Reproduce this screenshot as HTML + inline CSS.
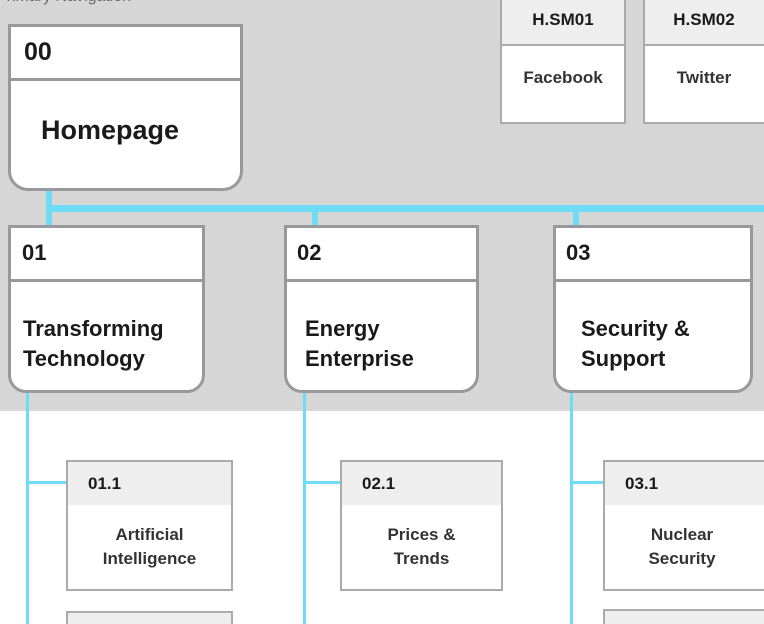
<!DOCTYPE html>
<html style="width:764px;height:624px;overflow:hidden"><head><style>
*{margin:0;padding:0;box-sizing:border-box}
body{width:764px;height:624px;overflow:hidden;background:#fff;position:relative;font-family:"Liberation Sans",Arial,sans-serif;font-weight:bold;color:#1a1a1a}
.a{position:absolute}
.grey{left:0;top:0;width:764px;height:411px;background:#d6d6d6}
.box{position:absolute;background:#fff;border:3px solid #999;overflow:hidden}
.hd{position:absolute;left:0;right:0;top:0;border-bottom:3px solid #999;background:#fff}
.sub{position:absolute;background:#fff;border:2px solid #aaa}
.sub .hd{background:#eee;border-bottom:none;height:43px;font-size:17px;line-height:43px;padding-left:20px}
.sub .bd{position:absolute;left:0;right:0;top:43px;bottom:0;display:flex;align-items:center;justify-content:center;text-align:center;font-size:17px;line-height:24px;color:#333}
.bl{position:absolute;background:#6fdcf5}
</style></head><body>
<div class="a grey"></div>
<div class="a" style="left:-4px;top:-12px;font-size:16px;font-weight:normal;color:#666">Primary Navigation</div>

<div class="bl" style="left:46px;top:205px;width:718px;height:7px"></div>
<div class="bl" style="left:46px;top:190px;width:6px;height:38px"></div>
<div class="bl" style="left:312px;top:205px;width:6px;height:23px"></div>
<div class="bl" style="left:573px;top:205px;width:6px;height:23px"></div>
<div class="bl" style="left:26px;top:390px;width:3px;height:234px"></div>
<div class="bl" style="left:303px;top:390px;width:3px;height:234px"></div>
<div class="bl" style="left:570px;top:390px;width:3px;height:234px"></div>
<div class="bl" style="left:26px;top:481px;width:42px;height:3px"></div>
<div class="bl" style="left:303px;top:481px;width:39px;height:3px"></div>
<div class="bl" style="left:570px;top:481px;width:35px;height:3px"></div>

<div class="box" style="left:8px;top:24px;width:235px;height:167px;border-radius:0 0 20px 20px">
 <div class="hd" style="height:54px;font-size:25px;line-height:50px;padding-left:13px">00</div>
 <div class="a" style="left:0;right:0;top:54px;bottom:0;display:flex;align-items:center;padding-left:30px;font-size:27px;padding-bottom:8px">Homepage</div>
</div>

<div class="box" style="left:8px;top:225px;width:197px;height:168px;border-radius:0 0 18px 18px">
 <div class="hd" style="height:54px;font-size:22px;line-height:50px;padding-left:11px">01</div>
 <div class="a" style="left:12px;top:86px;font-size:22px;line-height:30px">Transforming<br>Technology</div>
</div>
<div class="box" style="left:284px;top:225px;width:195px;height:168px;border-radius:0 0 18px 18px">
 <div class="hd" style="height:54px;font-size:22px;line-height:50px;padding-left:10px">02</div>
 <div class="a" style="left:18px;top:86px;font-size:22px;line-height:30px">Energy<br>Enterprise</div>
</div>
<div class="box" style="left:553px;top:225px;width:200px;height:168px;border-radius:0 0 18px 18px">
 <div class="hd" style="height:54px;font-size:22px;line-height:50px;padding-left:10px">03</div>
 <div class="a" style="left:25px;top:86px;font-size:22px;line-height:30px">Security &amp;<br>Support</div>
</div>

<div class="sub" style="left:500px;top:-10px;width:126px;height:134px">
 <div class="hd" style="height:54px;line-height:56px;padding-left:0;text-align:center;border-bottom:2px solid #aaa">H.SM01</div>
 <div class="a" style="left:0;right:0;top:76px;text-align:center;font-size:17px;color:#333">Facebook</div>
</div>
<div class="sub" style="left:643px;top:-10px;width:130px;height:134px">
 <div class="hd" style="height:54px;line-height:56px;padding-left:0;text-align:center;border-bottom:2px solid #aaa;padding-right:8px">H.SM02</div>
 <div class="a" style="left:0;right:8px;top:76px;text-align:center;font-size:17px;color:#333">Twitter</div>
</div>

<div class="sub" style="left:66px;top:460px;width:167px;height:131px">
 <div class="hd">01.1</div><div class="bd">Artificial<br>Intelligence</div>
</div>
<div class="sub" style="left:340px;top:460px;width:163px;height:131px">
 <div class="hd">02.1</div><div class="bd">Prices &amp;<br>Trends</div>
</div>
<div class="sub" style="left:603px;top:460px;width:170px;height:131px">
 <div class="hd">03.1</div><div class="bd" style="padding-right:12px">Nuclear<br>Security</div>
</div>
<div class="sub" style="left:66px;top:611px;width:167px;height:13px;background:#eee;border-bottom:none"></div>
<div class="sub" style="left:603px;top:609px;width:170px;height:15px;background:#eee;border-bottom:none"></div>
</body></html>
